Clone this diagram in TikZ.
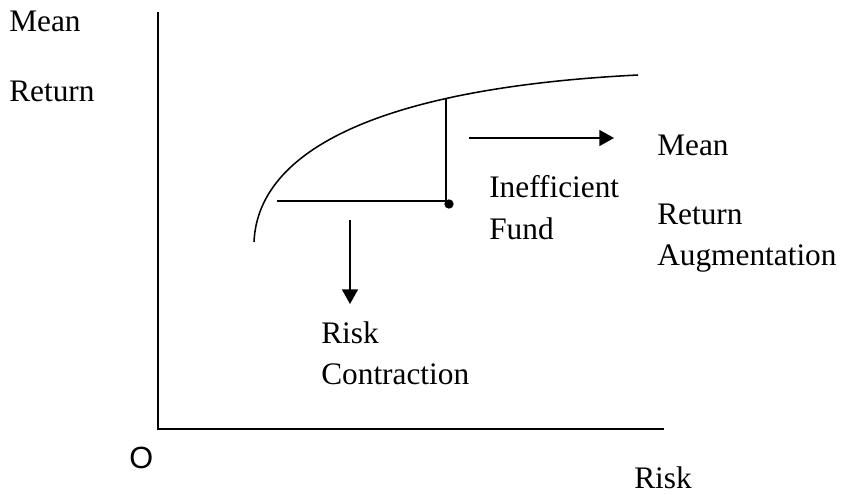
\documentclass[tikz,border=0pt]{standalone}
\usepackage{fontspec}
\setmainfont{Liberation Serif}
\newfontfamily\osans{Liberation Sans}
\usetikzlibrary{arrows.meta,intersections}
\begin{document}
\begin{tikzpicture}[x=0.75pt,y=-0.75pt,
  lbl/.style={anchor=base west,inner sep=0pt,font=\fontsize{23.5pt}{26pt}\selectfont},
  axisline/.style={line width=1.5pt,line cap=rect},
  thin/.style={line width=1.15pt},
  arr/.style={line width=1.3pt,-{Triangle[length=11pt,width=12pt]}}]
\useasboundingbox (0,0) rectangle (843,495);
% axes
\coordinate (ytop) at (158,13);
\coordinate (orig) at (158,429);
\coordinate (xend) at (663,429);
\draw[axisline] (ytop) -- (orig) -- (xend);
% frontier curve
\coordinate (cs) at (254,242);
\coordinate (ce) at (638,75);
\draw[thin,name path=front] (cs) .. controls (258,150) and (380,88) .. (ce);
% inefficient fund construction
\coordinate (corner) at (446,201);
\coordinate (left) at (277,201);
\path[name path=vert] (corner) -- (446,60);
\path[name intersections={of=front and vert,by=top}];
\draw[thin] (top) -- (corner) -- (left);
\node[circle,fill=black,inner sep=0pt,minimum size=7pt] (fund) at (449,204) {};
% arrows
\coordinate (ra1) at (469,138);
\coordinate (ra2) at (614,138);
\draw[arr] (ra1) -- (ra2);
\coordinate (da1) at (350,220);
\coordinate (da2) at (350,304);
\draw[arr] (da1) -- (da2);
% labels
\node[lbl] (ymean) at (9,32) {Mean};
\node[lbl] (yret) at (9,102) {Return};
\node[lbl] (rmean) at (657,156) {Mean};
\node[lbl] (rret) at (657,225) {Return};
\node[lbl] (raug) at (657,266) {Augmentation};
\node[lbl] (ineff) at (489,198) {Inefficient};
\node[lbl] (fundl) at (489,240) {Fund};
\node[lbl] (risk1) at (321,344) {Risk};
\node[lbl] (contr) at (321,385) {Contraction};
\node[lbl,font=\osans\fontsize{23pt}{26pt}\selectfont] (o) at (129,469) {O};
\node[lbl] (xrisk) at (634,488) {Risk};
\end{tikzpicture}
\end{document}
